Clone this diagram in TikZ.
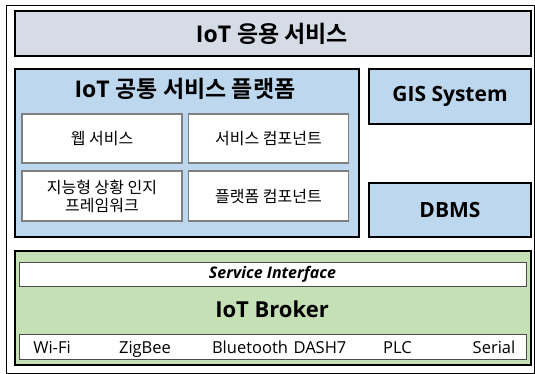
\documentclass[tikz,border=0pt]{standalone}
\usepackage{fontspec}
\setmainfont{Open Sans}
\newfontfamily\kr{Noto Sans CJK KR}[BoldFont={Noto Sans CJK KR Bold}]
\usetikzlibrary{positioning, calc}

\definecolor{appgray}{HTML}{D6DCE5}
\definecolor{platblue}{HTML}{BDD7EE}
\definecolor{brokergreen}{HTML}{C5E0B4}
\definecolor{innerline}{HTML}{7F7F7F}

\tikzset{
  layer/.style={draw=black, line width=2.2pt, inner sep=0pt},
  module/.style={draw=innerline, line width=1.2pt, fill=white, inner sep=0pt,
    minimum width=160pt, minimum height=49pt, align=center,
    font=\kr\fontsize{16}{18}\selectfont},
  bar/.style={draw=black!70, line width=0.8pt, fill=white, inner sep=0pt,
    minimum width=507pt},
  proto/.style={font=\fontsize{16.5}{20}\selectfont, inner sep=0pt},
  bigtitle/.style={font=\fontsize{22}{24}\selectfont\bfseries, inner sep=0pt},
  krtitle/.style={font=\fontsize{23}{25}\selectfont\bfseries, inner sep=0pt}
}

\begin{document}
\begin{tikzpicture}[x=1pt, y=-1pt]

  \useasboundingbox (0,0) rectangle (535,374);

  % frame
  \draw[line width=0.6pt] (6,5) rectangle (534.5,373.5);

  % application layer
  \node[layer, fill=appgray, minimum width=516pt, minimum height=45pt]
    (app) at (273,33.5) {};
  \node[krtitle] (apptitle) at (272,33.5) {IoT {\kr 응용 서비스}};

  % common platform
  \node[layer, fill=platblue, minimum width=344pt, minimum height=168pt]
    (platform) at (187,153) {};
  \node[krtitle] (plattitle) at (185,89) {IoT {\kr 공통 서비스 플랫폼}};

  \node[module] (websvc)   at (102,138.5)   {웹 서비스};
  \node[module] (svccomp)  at (268.5,138.5) {서비스 컴포넌트};
  \node[module, minimum height=50pt] (context)  at (102,196)   {지능형 상황 인지\\프레임워크};
  \node[module, minimum height=50pt] (platcomp) at (268.5,196) {플랫폼 컴포넌트};

  % GIS and DBMS
  \node[layer, fill=platblue, minimum width=162pt, minimum height=55pt,
    font=\fontsize{21}{24}\selectfont\bfseries] (gis) at (450,96.5) {GIS System};
  \node[layer, fill=platblue, minimum width=162pt, minimum height=54pt,
    font=\fontsize{21}{24}\selectfont\bfseries] (dbms) at (450,210) {DBMS};

  % broker layer
  \node[layer, fill=brokergreen, minimum width=516pt, minimum height=114pt]
    (broker) at (273,308) {};
  \node[bar, minimum height=24pt, font=\fontsize{16}{18}\selectfont\bfseries\itshape]
    (svcif) at (272.5,274) {Service Interface};
  \node[bigtitle] (brokertitle) at (272,309) {IoT Broker};
  \node[bar, minimum height=25pt] (protobar) at (272.5,346.5) {};

  \node[proto, anchor=base] (wifi) at (52,353)    {Wi-Fi};
  \node[proto, anchor=base] (zig)  at (145,353)   {ZigBee};
  \node[proto, anchor=base] (bt)   at (250,353)   {Bluetooth};
  \node[proto, anchor=base] (dash) at (320,353)   {DASH7};
  \node[proto, anchor=base] (plc)  at (397.5,353) {PLC};
  \node[proto, anchor=base] (ser)  at (494,353)   {Serial};

\end{tikzpicture}
\end{document}
